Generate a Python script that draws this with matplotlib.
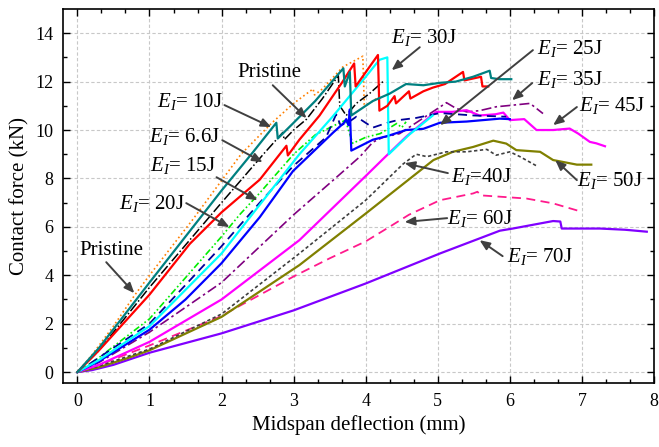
import numpy as np
import matplotlib.pyplot as plt

# force-deflection data (x in mm, y in kN)
pristine_a_x = [0, 0.2, 0.5, 0.8, 1.0, 1.6, 2.27, 2.7, 3.0, 3.27, 3.29, 3.4, 3.68, 3.96, 3.98, 4.05, 4.2]
pristine_a_y = [0, 0.7, 1.9, 3.2, 4.0, 6.3, 9.0, 10.3, 11.1, 11.7, 11.45, 11.7, 12.6, 13.05, 11.05, 11.1, 11.4]

pristine_b_x = [0, 0.3, 1.0, 2.0, 2.58, 2.85, 2.87, 3.0, 3.18, 3.4, 3.62, 3.64, 3.73, 3.87, 4.05, 4.24]
pristine_b_y = [0, 0.9, 3.5, 7.0, 9.0, 9.9, 9.6, 10.0, 10.45, 11.3, 12.25, 11.0, 10.6, 11.1, 11.5, 12.0]

e10_x = [0, 0.3, 1.0, 2.0, 2.44, 2.76, 2.78, 3.0, 3.3, 3.69, 3.71, 3.78, 3.80, 3.85, 4.1, 4.33,
         4.56, 4.8, 5.03, 5.25, 5.49, 5.72, 5.74, 5.85, 6.02]
e10_y = [0, 1.0, 3.7, 7.5, 9.1, 10.3, 9.65, 10.3, 11.2, 12.55, 11.8, 12.4, 10.6, 10.7, 11.2, 11.5,
         11.9, 11.85, 11.95, 12.0, 12.2, 12.45, 12.15, 12.1, 12.1]

e6_6_x = [0, 0.3, 1.0, 1.56, 2.0, 2.53, 2.9, 2.92, 3.08, 3.36, 3.68, 3.84, 3.86, 4.17, 4.19, 4.3,
          4.4, 4.42, 4.6, 4.62, 4.8, 4.93, 5.1, 5.35, 5.37, 5.6, 5.62, 5.7]
e6_6_y = [0, 0.9, 3.2, 5.3, 6.6, 7.95, 9.35, 8.95, 9.6, 10.6, 12.0, 12.75, 11.8, 13.1, 10.8, 11.0,
          11.4, 11.1, 11.6, 11.3, 11.6, 11.75, 11.9, 12.4, 12.05, 12.2, 11.8, 11.8]

e20_x = [0, 0.3, 1.0, 2.0, 2.25, 2.53, 3.0, 3.3, 3.64, 3.72, 3.82, 4.0, 4.2, 4.43, 4.5, 4.56]
e20_y = [0, 0.6, 2.2, 5.6, 6.5, 7.4, 9.0, 9.8, 10.3, 10.4, 9.45, 9.7, 9.85, 10.27, 10.1, 10.34]

e15_x = [0, 0.3, 1.0, 2.0, 2.53, 2.99, 3.45, 3.59, 3.65, 3.75, 3.87, 4.1, 4.3, 4.43, 4.7, 5.03, 5.5, 5.95]
e15_y = [0, 0.6, 2.0, 5.2, 7.0, 8.5, 9.7, 10.65, 10.2, 10.3, 10.55, 10.1, 10.3, 10.4, 10.5, 10.7, 10.6, 10.55]

e30_x = [0, 0.3, 1.0, 2.0, 2.5, 3.08, 3.54, 4.0, 4.19, 4.30, 4.32, 4.6, 4.93]
e30_y = [0, 0.5, 1.9, 4.9, 6.8, 9.0, 10.55, 12.2, 12.9, 13.0, 9.0, 9.8, 10.6]

e25_x = [0, 0.3, 1.0, 1.5, 2.0, 2.53, 2.99, 3.55, 3.7, 3.73, 3.76, 3.78, 3.80, 3.9, 4.1, 4.3,
         4.56, 4.8, 5.03, 5.4, 5.86, 6.0]
e25_y = [0, 0.45, 1.75, 3.0, 4.5, 6.4, 8.3, 9.9, 10.3, 10.45, 10.2, 10.85, 9.15, 9.3, 9.6, 9.75,
         10.0, 10.05, 10.3, 10.35, 10.47, 10.45]

e35_x = [0, 0.3, 1.0, 2.0, 3.0, 3.5, 3.92, 4.1, 4.24, 4.47, 4.7, 5.03, 5.12, 5.25, 5.4, 5.58,
         5.81, 6.05, 6.28, 6.46]
e35_y = [0, 0.4, 1.65, 3.7, 6.5, 7.8, 8.9, 9.5, 9.7, 9.85, 10.3, 10.95, 11.13, 10.9, 10.75, 10.8,
         10.96, 11.03, 11.1, 10.68]

e45_x = [0, 0.3, 1.0, 2.0, 3.08, 4.0, 4.24, 4.56, 4.89, 4.98, 5.2, 5.4, 5.58, 5.8, 5.91, 6.0,
         6.2, 6.37, 6.6, 6.83, 6.95, 7.11, 7.2, 7.32]
e45_y = [0, 0.3, 1.25, 3.0, 5.45, 8.1, 8.8, 9.72, 10.55, 10.75, 10.75, 10.82, 10.6, 10.65, 10.72, 10.41,
         10.45, 10.0, 10.0, 10.06, 9.85, 9.51, 9.45, 9.33]

e40_x = [0, 0.3, 1.0, 2.0, 3.08, 4.0, 4.52, 4.7, 4.85, 5.12, 5.4, 5.68, 5.81, 6.0, 6.14, 6.37]
e40_y = [0, 0.25, 0.95, 2.4, 4.9, 7.1, 8.6, 9.0, 8.9, 9.1, 9.1, 9.2, 8.96, 9.1, 8.9, 8.52]

e50_x = [0, 0.3, 0.68, 1.0, 2.0, 3.08, 4.0, 4.94, 5.21, 5.49, 5.77, 5.95, 6.09, 6.42, 6.6, 6.93, 7.13]
e50_y = [0, 0.2, 0.56, 0.9, 2.28, 4.42, 6.55, 8.76, 9.1, 9.3, 9.56, 9.44, 9.17, 9.1, 8.76, 8.57, 8.57]

e60_x = [0, 0.3, 1.0, 1.97, 3.0, 3.5, 4.0, 4.33, 4.6, 5.03, 5.49, 5.55, 5.6, 6.23, 6.6, 7.0]
e60_y = [0, 0.3, 1.1, 2.28, 3.95, 4.7, 5.4, 6.0, 6.5, 7.1, 7.38, 7.45, 7.3, 7.17, 6.97, 6.62]

e70_x = [0, 0.2, 0.5, 1.0, 2.0, 3.0, 4.0, 5.03, 5.86, 6.04, 6.6, 6.7, 6.72, 7.25, 7.6, 7.9]
e70_y = [0, 0.08, 0.3, 0.8, 1.6, 2.55, 3.66, 4.9, 5.84, 5.93, 6.24, 6.22, 5.93, 5.93, 5.88, 5.8]

# annotation text, text centre and arrow (tail -> head)
label_texts = ['$E_I$= 30J', '$E_I$= 25J', '$E_I$= 35J', '$E_I$= 45J', '$E_I$=40J', '$E_I$= 50J',
               '$E_I$= 60J', '$E_I$= 70J', 'Pristine', '$E_I$= 10J', '$E_I$= 6.6J', '$E_I$= 15J',
               '$E_I$= 20J', 'Pristine']
label_pos = [(4.81, 13.84), (6.83, 13.38), (6.83, 12.1), (7.42, 11.03), (5.6, 8.1), (7.39, 7.93),
             (5.58, 6.36), (6.42, 4.79), (2.67, 12.39), (1.56, 11.19), (1.49, 9.75), (1.46, 8.55),
             (1.03, 6.98), (0.47, 5.04)]
arrow_tail = [(4.75, 13.42), (6.32, 13.3), (6.31, 11.94), (6.93, 10.95), (5.14, 8.22), (6.93, 7.93),
              (5.13, 6.36), (5.9, 4.79), (2.71, 11.85), (2.04, 11.03), (2.01, 9.58), (1.93, 8.05),
              (1.51, 6.98), (0.4, 4.54)]
arrow_head = [(4.36, 12.47), (5.03, 10.2), (6.03, 11.23), (6.6, 10.2), (4.54, 8.63), (6.63, 8.76),
              (4.54, 6.2), (5.58, 5.45), (3.18, 10.49), (2.69, 10.12), (2.57, 8.67), (2.5, 7.1),
              (2.11, 5.99), (0.79, 3.26)]

plt.rcParams['font.family'] = ['Liberation Serif', 'DejaVu Serif']
plt.rcParams['mathtext.fontset'] = 'custom'
plt.rcParams['mathtext.rm'] = 'Liberation Serif'
plt.rcParams['mathtext.it'] = 'Liberation Serif:italic'

fig = plt.figure(figsize=(6.59, 4.47), dpi=100)
ax = fig.add_axes([0.0956, 0.1432, 0.8968, 0.8367])

# curves
ax.plot(pristine_a_x, pristine_a_y, color='#FF8000', ls=':', lw=1.2)
ax.plot(pristine_b_x, pristine_b_y, color='black', ls='-.', lw=1.1)
ax.plot(e70_x, e70_y, color='#8000FF', lw=1.6)
ax.plot(e60_x, e60_y, color='#FF1A8C', ls=(0, (5, 3)), lw=1.3)
ax.plot(e50_x, e50_y, color='#808000', lw=1.6)
ax.plot(e40_x, e40_y, color='#404040', ls=(0, (2, 1.5)), lw=1.2)
ax.plot(e35_x, e35_y, color='#800080', ls=(0, (6, 2, 1.5, 2)), lw=1.2)
ax.plot(e45_x, e45_y, color='#FF00FF', lw=1.6)
ax.plot(e20_x, e20_y, color='#00EE00', ls=(0, (4, 1.5, 1, 1.5, 1, 1.5)), lw=1.2)
ax.plot(e15_x, e15_y, color='#000099', ls=(0, (5, 3)), lw=1.3)
ax.plot(e25_x, e25_y, color='#0000FF', lw=1.6)
ax.plot(e30_x, e30_y, color='#00FFFF', lw=1.6)
ax.plot(e6_6_x, e6_6_y, color='#FF0000', lw=1.6)
ax.plot(e10_x, e10_y, color='#008080', lw=1.6)

# labels with arrows
for txt, pos, tail, head in zip(label_texts, label_pos, arrow_tail, arrow_head):
    ax.text(pos[0], pos[1], txt, fontsize=15, ha='center', va='center')
    ax.annotate('', xy=head, xytext=tail,
                arrowprops=dict(arrowstyle='-|>,head_length=0.6,head_width=0.25',
                                color='#404040', lw=1.4, shrinkA=0, shrinkB=0))

ax.set_xlim(-0.2, 8.0)
ax.set_ylim(-0.45, 15.0)
ax.set_xticks(np.arange(0, 9, 1))
ax.set_yticks(np.arange(0, 15, 2))
ax.set_xticks(np.arange(0, 8.01, 1 / 3), minor=True)
ax.set_yticks(np.arange(0, 15, 1), minor=True)
ax.tick_params(which='both', direction='in', top=True, right=True, labelsize=13, width=1.0, pad=7)
ax.tick_params(which='major', length=5)
ax.tick_params(which='minor', length=3)
for s in ax.spines.values():
    s.set_linewidth(1.2)
ax.grid(True, which='major', color='#C8C8C8', ls=(0, (3, 2)), lw=0.8)
ax.set_axisbelow(True)

ax.set_xlabel('Midspan deflection (mm)', fontsize=15)
ax.set_ylabel('Contact force (kN)', fontsize=15)

fig.savefig('out.png', dpi=100)
